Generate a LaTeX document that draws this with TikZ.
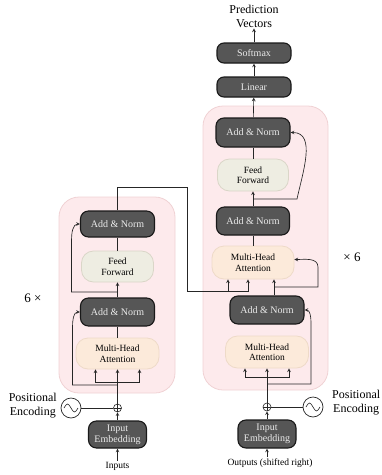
\documentclass[tikz,border=0pt]{standalone}
\usepackage{fontspec}
\setmainfont{Liberation Serif}
\usepackage{tikz}
\usetikzlibrary{arrows,calc}
\definecolor{blockpink}{RGB}{253,234,236}
\definecolor{blockedge}{RGB}{240,210,212}
\definecolor{normgray}{RGB}{86,86,86}
\definecolor{ffgreen}{RGB}{238,237,226}
\definecolor{ffedge}{RGB}{218,214,200}
\definecolor{attnpeach}{RGB}{252,234,218}
\definecolor{attnedge}{RGB}{238,218,200}
\begin{document}
\begin{tikzpicture}[x=1pt,y=-1pt,
  norm/.style={draw=black!90,line width=1.1pt,fill=normgray,rounded corners=8pt,text=white!92!black,minimum width=74pt,minimum height=28pt,inner sep=0pt,font=\fontsize{10}{11}\selectfont,align=center},
  ff/.style={draw=ffedge,line width=0.8pt,fill=ffgreen,rounded corners=12pt,minimum width=72pt,minimum height=31pt,inner sep=0pt,font=\fontsize{9.5}{10.5}\selectfont,align=center},
  attn/.style={ff,draw=attnedge,fill=attnpeach,minimum width=83pt},
  sumnode/.style={circle,draw=black!85,line width=0.6pt,minimum size=8pt,inner sep=0pt,path picture={\draw[line width=0.5pt] (path picture bounding box.north) -- (path picture bounding box.south) (path picture bounding box.west) -- (path picture bounding box.east);}},
  penode/.style={circle,draw=black!85,line width=0.7pt,minimum size=20pt,inner sep=0pt,path picture={\draw[line width=0.6pt] ([xshift=-7pt]path picture bounding box.center) sin ++(3.5pt,4pt) cos ++(3.5pt,-4pt) sin ++(3.5pt,-4pt) cos ++(3.5pt,4pt);}},
  big/.style={font=\fontsize{12}{14}\selectfont,align=center,inner sep=1pt},
  small/.style={font=\fontsize{9.5}{11}\selectfont,inner sep=1pt},
  conn/.style={draw=black!85,line width=0.65pt},
  arr/.style={conn,-stealth}]
\useasboundingbox (0,0) rectangle (382,475);
\draw[draw=blockedge,fill=blockpink,line width=0.8pt,rounded corners=20pt] (59,197) rectangle (175,393);
\draw[draw=blockedge,fill=blockpink,line width=0.8pt,rounded corners=20pt] (203,106) rectangle (328,390);

\node[attn] (encattn) at (117.5,353.5) {Multi-Head\\Attention};
\node[norm] (encnormA) at (117.5,312) {Add \& Norm};
\node[ff] (encff) at (117.5,266.5) {Feed\\Forward};
\node[norm,minimum height=26pt] (encnormB) at (117.5,224) {Add \& Norm};
\node[norm,minimum width=58pt,minimum height=27pt] (encemb) at (117.5,434.5) {Input\\Embedding};
\node[sumnode] (encsum) at (117.5,408) {};
\node[penode] (encpe) at (71,408) {};
\node[small] (inputs) at (117.5,466) {Inputs};
\node[big,anchor=east] (encpelabel) at (58,406) {Positional\\Encoding};
\node[big,font=\fontsize{13}{15}\selectfont] (encrep) at (33,298) {6 ×};

\node[norm,minimum width=58pt] (decemb) at (267,434) {Input\\Embedding};
\node[sumnode] (decsum) at (267,407) {};
\node[penode] (decpe) at (313,407) {};
\node[attn,minimum height=32pt] (decattn) at (267,352) {Multi-Head\\Attention};
\node[norm] (decnormA) at (267,310) {Add \& Norm};
\node[attn,minimum width=82pt,minimum height=33pt] (deccross) at (253,262.5) {Multi-Head\\Attention};
\node[norm,minimum width=73pt] (decnormB) at (253,221) {Add \& Norm};
\node[ff,minimum width=71pt,minimum height=32pt] (decff) at (253,175) {Feed\\Forward};
\node[norm,minimum height=29pt] (decnormC) at (253,132.5) {Add \& Norm};
\node[norm,rounded corners=7pt,minimum height=20pt] (linear) at (254,87) {Linear};
\node[norm,rounded corners=7pt,minimum height=20pt] (softmax) at (254,53) {Softmax};
\node[big] (pred) at (254,16) {Prediction\\Vectors};
\node[small] (outputs) at (270,463) {Outputs (shifted right)};
\node[big,anchor=west] (decpelabel) at (331,403) {Positional\\Encoding};
\node[big,font=\fontsize{13}{15}\selectfont] (decrep) at (352,257) {× 6};

\coordinate (encsplit) at (117.5,382);
\coordinate (encres1) at (117.5,385);
\coordinate (encres2) at (117.5,292);
\coordinate (crossin) at (187,291);
\draw[arr] (inputs) -- (encemb);
\draw[arr] (encemb) -- (encsum);
\draw[conn] (encsum) -- (encpe);
\draw[arr] (encsum) -- (encattn);
\draw[arr] (encsplit) -| ([xshift=-22pt]encattn.south);
\draw[arr] (encsplit) -| ([xshift=22pt]encattn.south);
\draw[arr] (encres1) -- ++(-45,0) -- ++(0,-58) to[out=90,in=180] (encnormA.west);
\draw[conn] (encattn) -- (encnormA);
\draw[arr] (encnormA) -- (encff);
\draw[arr] (encres2) -- ++(-46,0) -- ++(0,-52) to[out=90,in=180] (encnormB.west);
\draw[conn] (encff) -- (encnormB);
\draw[conn] (encnormB.north) -- ++(0,-23) -| (crossin);
\draw[arr] (crossin) -| ([xshift=-25pt]deccross.south);
\draw[arr] (crossin) -| ([xshift=-5pt]deccross.south);

\coordinate (decsplit) at (267,377);
\coordinate (decres1) at (267,384);
\coordinate (decres2) at (274,287);
\coordinate (decres3) at (253,199);
\draw[arr] (outputs.north -| decemb) -- (decemb);
\draw[arr] (decemb) -- (decsum);
\draw[conn] (decsum) -- (decpe);
\draw[arr] (decsum) -- (decattn);
\draw[arr] (decsplit) -| ([xshift=-22pt]decattn.south);
\draw[arr] (decsplit) -| ([xshift=22pt]decattn.south);
\draw[arr] (decres1) -- ++(44,0) -- ++(0,-62) to[out=90,in=0] (decnormA.east);
\draw[arr] ([xshift=7pt]decnormA.north) -- ([xshift=21pt]deccross.south);
\draw[arr] (decres2) -- ++(44,0) -- ++(0,-20) to[out=90,in=0] ([yshift=3pt]deccross.east);
\draw[conn] (deccross) -- (decnormB);
\draw[arr] (decnormB) -- (decff);
\draw[arr] (decres3) -- ++(44,0) to[out=78,in=0] (decnormC.east);
\draw[conn] (decff) -- (decnormC);
\draw[arr] (decnormC) -- (linear);
\draw[arr] (linear) -- (softmax);
\draw[arr] (softmax) -- (pred);
\end{tikzpicture}
\end{document}
